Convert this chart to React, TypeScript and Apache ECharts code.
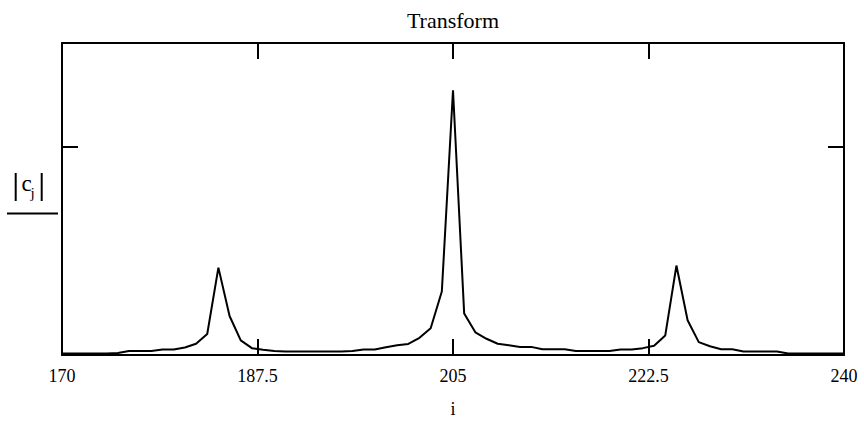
import React, { useEffect, useRef } from "react";
import * as echarts from "echarts";

const indices: number[] = [
  170, 171, 172, 173, 174, 175, 176, 177, 178, 179,
  180, 181, 182, 183, 184, 185, 186, 187, 188, 189,
  190, 191, 192, 193, 194, 195, 196, 197, 198, 199,
  200, 201, 202, 203, 204, 205, 206, 207, 208, 209,
  210, 211, 212, 213, 214, 215, 216, 217, 218, 219,
  220, 221, 222, 223, 224, 225, 226, 227, 228, 229,
  230, 231, 232, 233, 234, 235, 236, 237, 238, 239, 240,
];

const magnitudes: number[] = [
  0.0075, 0.0075, 0.0075, 0.0075, 0.0075, 0.0094, 0.019, 0.019, 0.019, 0.026,
  0.026, 0.036, 0.054, 0.101, 0.42, 0.1875, 0.07, 0.033, 0.025, 0.019,
  0.017, 0.017, 0.017, 0.017, 0.017, 0.017, 0.019, 0.026, 0.026, 0.0375,
  0.047, 0.053, 0.0825, 0.129, 0.305, 1.273, 0.2, 0.109, 0.078, 0.054,
  0.047, 0.039, 0.039, 0.028, 0.028, 0.028, 0.019, 0.019, 0.019, 0.019,
  0.026, 0.026, 0.033, 0.044, 0.094, 0.43, 0.167, 0.062, 0.042, 0.028,
  0.028, 0.017, 0.017, 0.017, 0.017, 0.0075, 0.0075, 0.0075, 0.0075, 0.0075, 0.0075,
];

const xTicks: number[] = [170, 187.5, 205, 222.5, 240];

const FONT = "Liberation Serif, DejaVu Serif, serif";

export default function App() {
  const ref = useRef<HTMLDivElement>(null);

  useEffect(() => {
    document.body.style.margin = "0";
    if (!ref.current) return;
    const chart = echarts.init(ref.current, undefined, { renderer: "svg" });
    const data = indices.map((i, k) => [i, magnitudes[k]]);
    const axisLine = { show: true, onZero: false, lineStyle: { color: "#000", width: 2 } };
    const tick = { show: true, inside: true, length: 16, lineStyle: { color: "#000", width: 2 } };
    chart.setOption({
      animation: false,
      backgroundColor: "#fff",
      textStyle: { fontFamily: FONT },
      grid: { left: 62, right: 20, top: 43, bottom: 60, containLabel: false },
      xAxis: [
        {
          type: "value",
          position: "bottom",
          min: xTicks[0],
          max: xTicks[xTicks.length - 1],
          interval: 17.5,
          name: "i",
          nameLocation: "middle",
          nameGap: 45,
          nameTextStyle: { fontFamily: FONT, fontSize: 18, color: "#000" },
          axisLine,
          axisTick: tick,
          axisLabel: {
            show: true,
            margin: 12,
            fontFamily: FONT,
            fontSize: 18,
            color: "#000",
            formatter: (v: number) => String(v),
          },
          splitLine: { show: false },
        },
        {
          type: "value",
          position: "top",
          min: xTicks[0],
          max: xTicks[xTicks.length - 1],
          interval: 17.5,
          axisLine,
          axisTick: tick,
          axisLabel: { show: false },
          splitLine: { show: false },
        },
      ],
      yAxis: [
        {
          type: "value",
          position: "left",
          min: 0,
          max: 1.5,
          interval: 1,
          axisLine,
          axisTick: tick,
          axisLabel: { show: false },
          splitLine: { show: false },
        },
        {
          type: "value",
          position: "right",
          min: 0,
          max: 1.5,
          interval: 1,
          axisLine,
          axisTick: tick,
          axisLabel: { show: false },
          splitLine: { show: false },
        },
      ],
      series: [
        {
          type: "line",
          data,
          xAxisIndex: 0,
          yAxisIndex: 0,
          showSymbol: false,
          symbol: "none",
          lineStyle: { color: "#000", width: 2 },
          z: 3,
        },
      ],
      graphic: [
        {
          type: "text",
          x: 453,
          y: 20,
          style: {
            text: "Transform",
            fontFamily: FONT,
            fontSize: 22,
            fill: "#000",
            textAlign: "center",
            textVerticalAlign: "middle",
          },
        },
        {
          type: "line",
          shape: { x1: 15.7, y1: 173, x2: 15.7, y2: 201 },
          style: { stroke: "#000", lineWidth: 2 },
        },
        {
          type: "line",
          shape: { x1: 41.7, y1: 173, x2: 41.7, y2: 201 },
          style: { stroke: "#000", lineWidth: 2 },
        },
        {
          type: "text",
          x: 21.5,
          y: 194.5,
          style: {
            text: "c",
            fontFamily: FONT,
            fontSize: 23,
            fill: "#000",
            textAlign: "left",
            textVerticalAlign: "bottom",
          },
        },
        {
          type: "text",
          x: 30.5,
          y: 200,
          style: {
            text: "j",
            fontFamily: FONT,
            fontSize: 15,
            fill: "#000",
            textAlign: "left",
            textVerticalAlign: "bottom",
          },
        },
        {
          type: "line",
          shape: { x1: 7, y1: 213.5, x2: 58, y2: 213.5 },
          style: { stroke: "#000", lineWidth: 2 },
        },
      ],
    });
    return () => chart.dispose();
  }, []);

  return <div ref={ref} style={{ width: 864, height: 423 }} />;
}
